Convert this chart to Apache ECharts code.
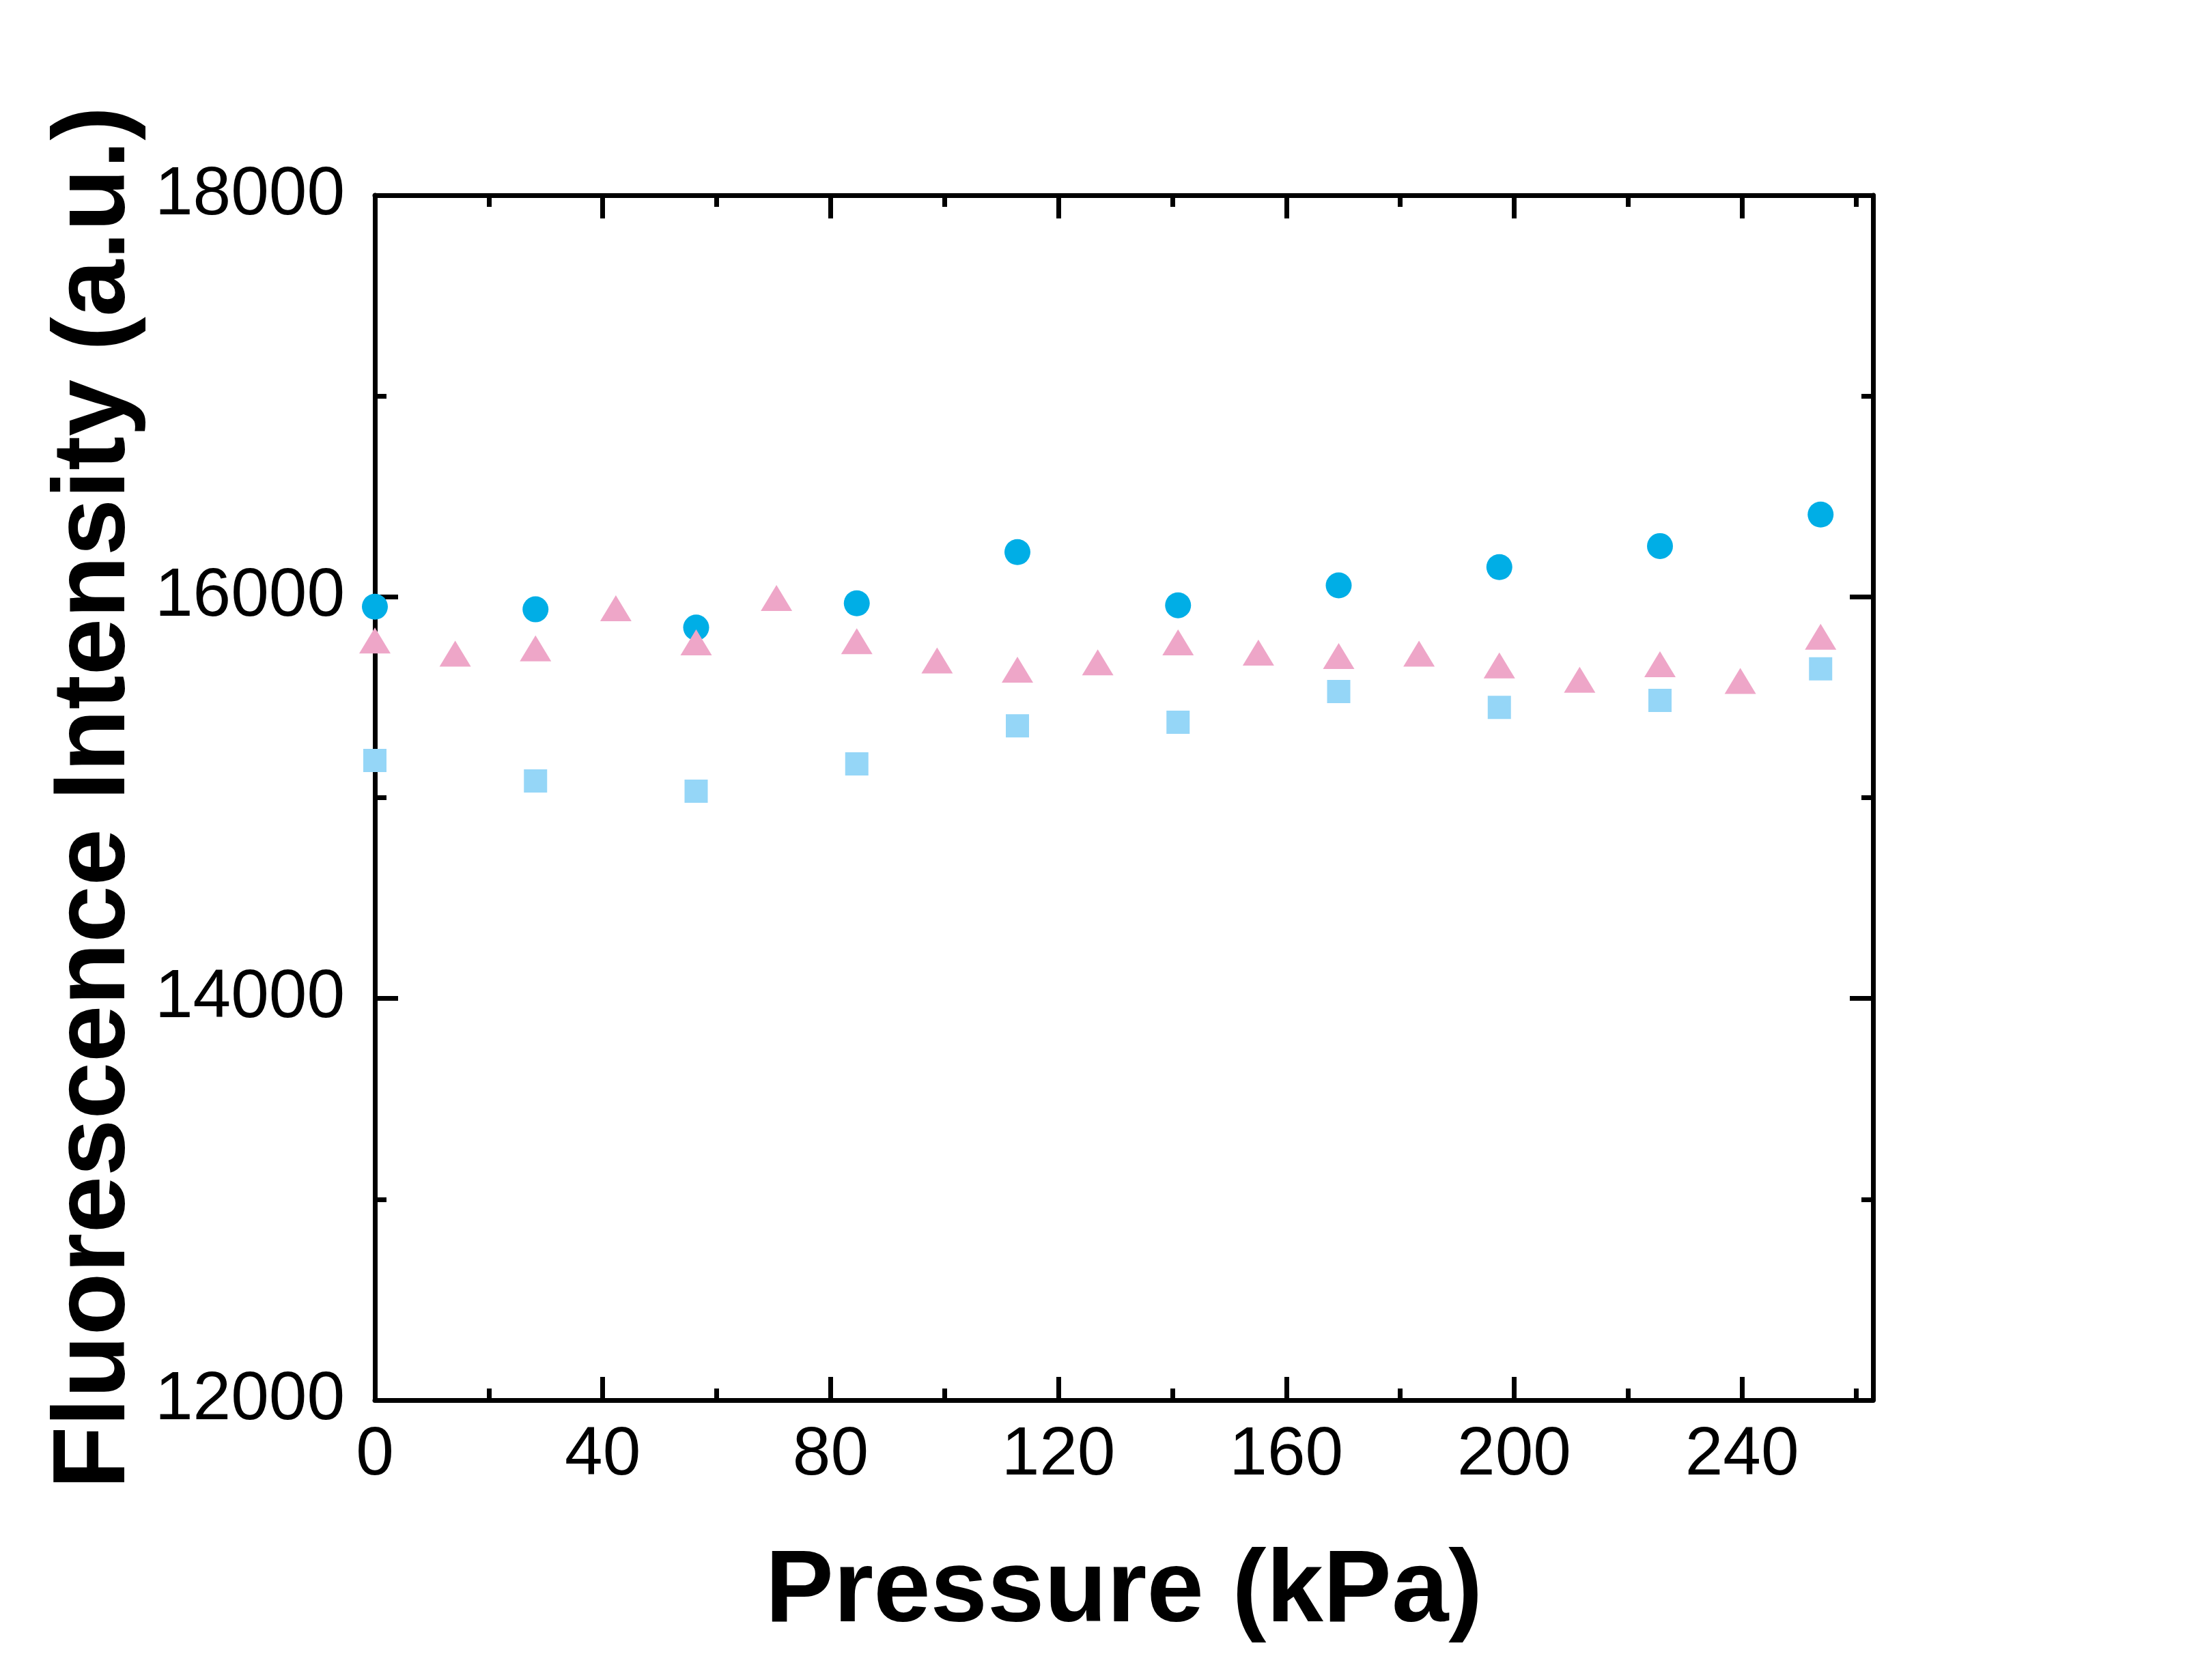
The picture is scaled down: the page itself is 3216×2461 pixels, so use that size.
<!DOCTYPE html>
<html>
<head>
<meta charset="utf-8">
<script src="https://cdn.jsdelivr.net/npm/echarts@6/dist/echarts.min.js"></script>
<style>
html, body { margin: 0; padding: 0; background: #ffffff; }
#chart { width: 3216px; height: 2461px; }
</style>
</head>
<body>
<div id="chart"></div>
<script>
// ---- data ----
const xTitle = 'Pressure (kPa)';
const yTitle = 'Fluorescence Intensity (a.u.)';
const xMajorTicks = [0, 40, 80, 120, 160, 200, 240];
const xMinorTicks = [20, 60, 100, 140, 180, 220, 260];

const xCircle = [0, 28.2, 56.4, 84.6, 112.8, 141, 169.2, 197.4, 225.6, 253.8];
const circleValues = [15951, 15938, 15847, 15968, 16223, 15958, 16057, 16148, 16253, 16410];

const xSquare = [0, 28.2, 56.4, 84.6, 112.8, 141, 169.2, 197.4, 225.6, 253.8];
const squareValues = [15185, 15083, 15032, 15168, 15358, 15376, 15529, 15450, 15484, 15642];

const xTriangle = [0, 14.1, 28.2, 42.3, 56.4, 70.5, 84.6, 98.7, 112.8, 126.9, 141, 155.1, 169.2, 183.3, 197.4, 211.5, 225.6, 239.7, 253.8];
const triangleValues = [15783, 15717, 15744, 15943, 15773, 15994, 15779, 15683, 15637, 15674, 15773, 15722, 15705, 15717, 15659, 15587, 15665, 15581, 15801];

// ---- build ----
const FONT = "'Liberation Sans', Arial, Helvetica, sans-serif";
const X_MIN = 0, X_MAX = 263;
const LINE_W = 7;

function pairs(xs, ys) { return xs.map((x, i) => [x, ys[i]]); }

function xAxisBase(position, showLine) {
  return {
    type: 'value', position: position, min: X_MIN, max: X_MAX,
    axisLine: { show: showLine, onZero: false, lineStyle: { color: '#000', width: LINE_W } },
    splitLine: { show: false },
    axisLabel: { show: false },
    axisTick: { show: false }
  };
}

const bottomMajor = xAxisBase('bottom', true);
bottomMajor.name = xTitle;
bottomMajor.nameLocation = 'middle';
bottomMajor.nameGap = 208;
bottomMajor.nameTextStyle = { fontFamily: FONT, fontWeight: 'bold', fontSize: 150, color: '#000' };
bottomMajor.axisLabel = { show: true, customValues: xMajorTicks, margin: 31, fontFamily: FONT, fontSize: 100, color: '#000', formatter: v => String(v) };
bottomMajor.axisTick = { show: true, inside: true, customValues: xMajorTicks, length: 34, lineStyle: { color: '#000', width: LINE_W } };

const bottomMinor = xAxisBase('bottom', false);
bottomMinor.axisTick = { show: true, inside: true, customValues: xMinorTicks, length: 17, lineStyle: { color: '#000', width: LINE_W } };

const topMajor = xAxisBase('top', true);
topMajor.axisTick = { show: true, inside: true, customValues: xMajorTicks, length: 34, lineStyle: { color: '#000', width: LINE_W } };

const topMinor = xAxisBase('top', false);
topMinor.axisTick = { show: true, inside: true, customValues: xMinorTicks, length: 17, lineStyle: { color: '#000', width: LINE_W } };

function yAxisBase(position, showLabels) {
  return {
    type: 'value', position: position, min: 12000, max: 18000, interval: 2000,
    axisLine: { show: true, onZero: false, lineStyle: { color: '#000', width: LINE_W } },
    splitLine: { show: false },
    axisTick: { show: true, inside: true, length: 34, lineStyle: { color: '#000', width: LINE_W } },
    minorTick: { show: true, splitNumber: 2, length: 17, lineStyle: { color: '#000', width: LINE_W } },
    axisLabel: { show: showLabels, margin: 44, fontFamily: FONT, fontSize: 100, color: '#000', formatter: v => String(v) }
  };
}

const leftY = yAxisBase('left', true);
leftY.name = yTitle;
leftY.nameLocation = 'middle';
leftY.nameGap = 320;
leftY.nameTextStyle = { fontFamily: FONT, fontWeight: 'bold', fontSize: 150, color: '#000' };
const rightY = yAxisBase('right', false);

const option = {
  backgroundColor: '#ffffff',
  animation: false,
  grid: { left: 549, right: 473, top: 286, bottom: 410, containLabel: false },
  xAxis: [bottomMajor, bottomMinor, topMajor, topMinor],
  yAxis: [leftY, rightY],
  series: [
    {
      name: 'square', type: 'scatter', xAxisIndex: 0, yAxisIndex: 0,
      symbol: 'rect', symbolSize: 34,
      itemStyle: { color: '#95D6F7', opacity: 1 },
      data: pairs(xSquare, squareValues), z: 3
    },
    {
      name: 'circle', type: 'scatter', xAxisIndex: 0, yAxisIndex: 0,
      symbol: 'circle', symbolSize: 38,
      itemStyle: { color: '#00AEE6', opacity: 1 },
      data: pairs(xCircle, circleValues), z: 4
    },
    {
      name: 'triangle', type: 'scatter', xAxisIndex: 0, yAxisIndex: 0,
      symbol: 'triangle', symbolSize: [46, 38],
      itemStyle: { color: '#EEA6C8', opacity: 1 },
      data: pairs(xTriangle, triangleValues), z: 5
    }
  ]
};

const chart = echarts.init(document.getElementById('chart'), null, { renderer: 'canvas', width: 3216, height: 2461 });
chart.setOption(option);
</script>
</body>
</html>
